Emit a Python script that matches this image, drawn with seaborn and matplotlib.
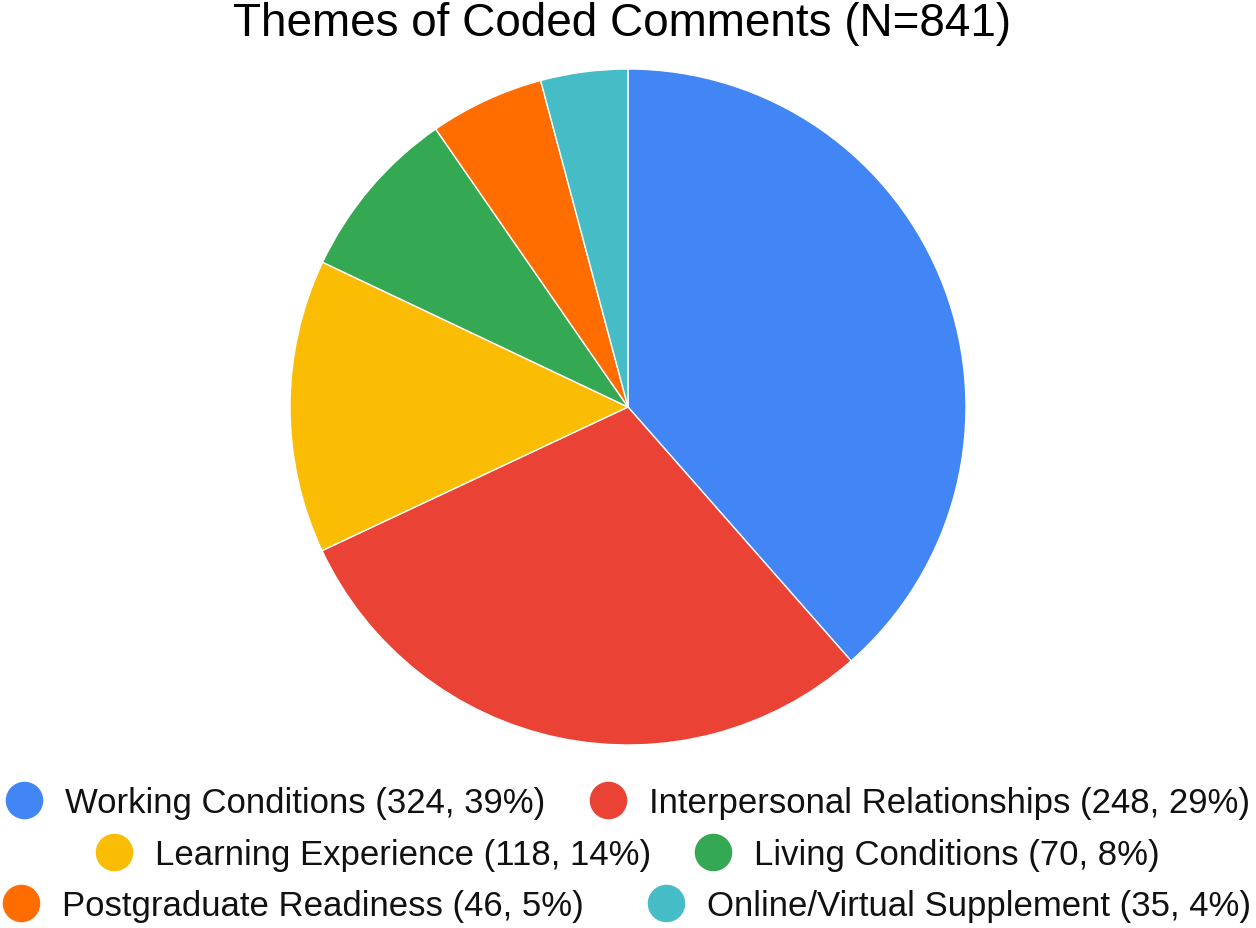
import matplotlib
matplotlib.use("Agg")
import matplotlib.pyplot as plt
import seaborn as sns
from matplotlib.lines import Line2D

categories = ["Working Conditions", "Interpersonal Relationships", "Learning Experience",
              "Living Conditions", "Postgraduate Readiness", "Online/Virtual Supplement"]
counts = [324, 248, 118, 70, 46, 35]
colors = ["#4285F4", "#EA4335", "#FBBC04", "#34A853", "#FF6D01", "#46BDC6"]
title = "Themes of Coded Comments (N=841)"

sns.set_theme(style="white")
plt.rcParams["font.family"] = ["Liberation Sans", "DejaVu Sans"]

W, H = 1256, 929
fig = plt.figure(figsize=(W / 100, H / 100), dpi=100)
fig.patch.set_facecolor("white")

cx, cy, r = 628, 408, 338
ax = fig.add_axes([(cx - r) / W, (H - cy - r) / H, 2 * r / W, 2 * r / H])
ax.pie(counts, colors=colors, startangle=90, counterclock=False, radius=1,
       wedgeprops=dict(edgecolor="white", linewidth=1))
ax.set_xlim(-1, 1)
ax.set_ylim(-1, 1)
ax.axis("off")

fig.text(622 / W, 1 - 24 / H, title, ha="center", va="center", fontsize=33, color="black")

total = sum(counts)
labels = [f"{c} ({n}, {round(100 * n / total)}%)" for c, n in zip(categories, counts)]
handles = [Line2D([], [], marker="o", linestyle="none", markersize=26,
                  markerfacecolor=col, markeredgecolor=col) for col in colors]

row_y = [804, 856, 907]
row_x = [628, 628, 627]
row_cs = [1.27, 1.27, 1.84]
for i, y in enumerate(row_y):
    leg = fig.legend(handles[2 * i:2 * i + 2], labels[2 * i:2 * i + 2], loc="center",
                     bbox_to_anchor=(row_x[i] / W, 1 - y / H), ncol=2, frameon=False,
                     fontsize=25, handlelength=1.04, handletextpad=0.66,
                     columnspacing=row_cs[i], borderpad=0, borderaxespad=0)
    for t in leg.get_texts():
        t.set_color("#111111")

fig.savefig("out.png", dpi=100, facecolor="white")
